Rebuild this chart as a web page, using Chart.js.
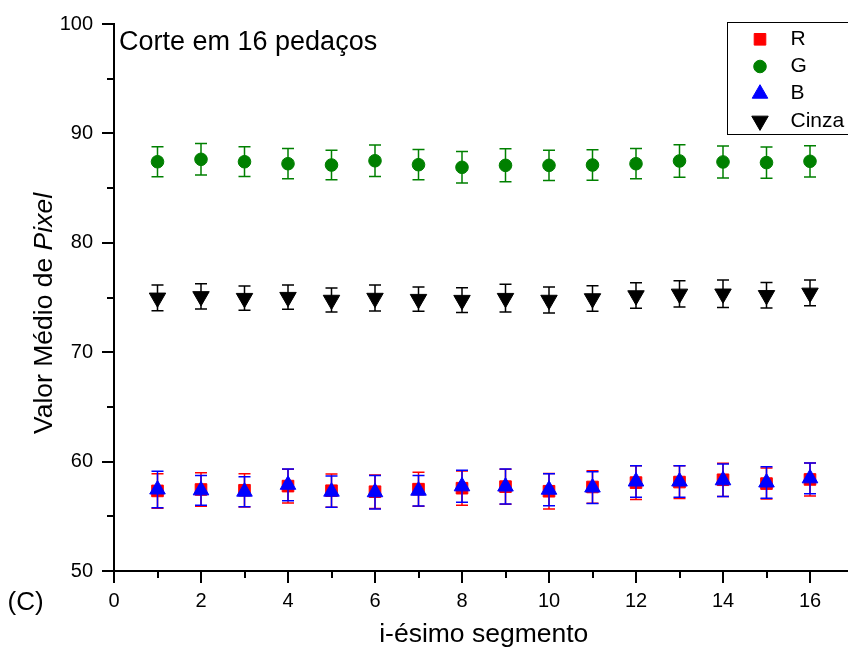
<!DOCTYPE html>
<html>
<head>
<meta charset="utf-8">
<script src="https://cdn.jsdelivr.net/npm/chart.js@4.4.1/dist/chart.umd.min.js"></script>
<style>
  html, body { margin: 0; padding: 0; background: #fff; overflow: hidden; width: 848px; height: 654px; }
  #quadro { position: absolute; left: 0; top: 0; width: 864px; height: 654px; }
  canvas { display: block; }
</style>
</head>
<body>
<div id="quadro"><canvas id="grafico" width="864" height="654" style="width:864px;height:654px"></canvas></div>
<script>
// Segmentos da imagem (corte em 16 pedaços)
const segmentos = [1, 2, 3, 4, 5, 6, 7, 8, 9, 10, 11, 12, 13, 14, 15, 16];

// Valor médio de pixel por canal e desvio (barra de erro)
const rMedia = [57.32, 57.45, 57.38, 57.76, 57.34, 57.25, 57.48, 57.57, 57.71, 57.29, 57.68, 58.08, 58.13, 58.34, 57.99, 58.37];
const rErro  = [1.58, 1.52, 1.52, 1.55, 1.52, 1.53, 1.55, 1.57, 1.60, 1.62, 1.48, 1.54, 1.50, 1.52, 1.42, 1.51];

const gMedia = [87.41, 87.63, 87.41, 87.23, 87.11, 87.50, 87.14, 86.90, 87.08, 87.08, 87.11, 87.23, 87.48, 87.39, 87.33, 87.45];
const gErro  = [1.38, 1.44, 1.36, 1.38, 1.34, 1.43, 1.38, 1.44, 1.51, 1.39, 1.40, 1.38, 1.48, 1.46, 1.42, 1.43];

const bMedia = [57.45, 57.37, 57.25, 57.88, 57.25, 57.20, 57.34, 57.74, 57.72, 57.43, 57.63, 58.18, 58.18, 58.29, 58.09, 58.47];
const bErro  = [1.66, 1.37, 1.37, 1.45, 1.43, 1.54, 1.40, 1.46, 1.60, 1.46, 1.45, 1.45, 1.45, 1.49, 1.45, 1.40];

const cinzaMedia = [74.97, 75.10, 74.94, 75.03, 74.77, 74.95, 74.85, 74.76, 74.94, 74.77, 74.91, 75.18, 75.33, 75.34, 75.20, 75.42];
const cinzaErro  = [1.17, 1.16, 1.11, 1.11, 1.10, 1.19, 1.11, 1.14, 1.26, 1.19, 1.17, 1.17, 1.20, 1.25, 1.16, 1.17];

// Rótulos dos eixos
const xRotulos = [0, 2, 4, 6, 8, 10, 12, 14, 16];
const yRotulos = [50, 60, 70, 80, 90, 100];

const FONTE = '"Liberation Sans", Arial, Helvetica, sans-serif';
Chart.defaults.font.family = FONTE;
Chart.defaults.color = '#000';

const pares = (medias) => segmentos.map((s, i) => ({ x: s, y: medias[i] }));

// Barras de erro desenhadas logo antes dos marcadores de cada série
const barrasDeErro = {
  id: 'barrasDeErro',
  beforeDatasetDraw(chart, args) {
    const ds = chart.data.datasets[args.index];
    if (!ds.erros) return;
    const esc = chart.scales.y;
    const ctx = chart.ctx;
    const cap = 6;
    ctx.save();
    ctx.strokeStyle = ds.borderColor;
    ctx.lineWidth = 1.5;
    args.meta.data.forEach((pt, i) => {
      const v = ds.data[i].y;
      const e = ds.erros[i];
      const yt = esc.getPixelForValue(v + e);
      const yb = esc.getPixelForValue(v - e);
      ctx.beginPath();
      ctx.moveTo(pt.x, yt); ctx.lineTo(pt.x, yb);
      ctx.moveTo(pt.x - cap, yt); ctx.lineTo(pt.x + cap, yt);
      ctx.moveTo(pt.x - cap, yb); ctx.lineTo(pt.x + cap, yb);
      ctx.stroke();
    });
    ctx.restore();
  }
};

// Marcas dos eixos voltadas para fora: principais longas, secundárias curtas
const marcas = {
  id: 'marcas',
  afterDraw(chart) {
    const { ctx, chartArea: a } = chart;
    const x = chart.scales.x, y = chart.scales.y;
    ctx.save();
    ctx.strokeStyle = '#000';
    ctx.lineWidth = 2;
    ctx.beginPath();
    x.ticks.forEach(t => {
      const px = Math.round(x.getPixelForValue(t.value));
      const len = t.value % 2 === 0 ? 12 : 7;
      ctx.moveTo(px, a.bottom);
      ctx.lineTo(px, a.bottom + len);
    });
    y.ticks.forEach(t => {
      const py = Math.round(y.getPixelForValue(t.value));
      const len = t.value % 10 === 0 ? 12 : 7;
      ctx.moveTo(a.left, py);
      ctx.lineTo(a.left - len, py);
    });
    ctx.stroke();
    ctx.restore();
  }
};

// Título do eixo y (com "Pixel" em itálico), rótulo do painel e anotação
const textos = {
  id: 'textos',
  afterDraw(chart) {
    const ctx = chart.ctx;
    const a = chart.chartArea;
    ctx.save();
    ctx.fillStyle = '#000';
    ctx.textAlign = 'left';
    ctx.textBaseline = 'alphabetic';

    const normal = '26.5px ' + FONTE;
    const italico = 'italic 26.5px ' + FONTE;
    const parteA = 'Valor Médio de ';
    const parteB = 'Pixel';
    ctx.font = normal;
    const wA = ctx.measureText(parteA).width;
    ctx.font = italico;
    const wB = ctx.measureText(parteB).width;
    ctx.save();
    ctx.translate(51.5, 313.5);
    ctx.rotate(-Math.PI / 2);
    const x0 = -(wA + wB) / 2;
    ctx.font = normal;
    ctx.fillText(parteA, x0, 0);
    ctx.font = italico;
    ctx.fillText(parteB, x0 + wA, 0);
    ctx.restore();

    ctx.font = '26px ' + FONTE;
    ctx.fillText('(C)', 7.5, 610);
    ctx.font = '27px ' + FONTE;
    ctx.fillText('Corte em 16 pedaços', a.left + 5, 49.5);
    ctx.restore();
  }
};

// Legenda em caixa no canto superior direito
const legenda = {
  id: 'legenda',
  afterDraw(chart) {
    const ctx = chart.ctx;
    ctx.save();
    ctx.strokeStyle = '#000';
    ctx.lineWidth = 1;
    ctx.strokeRect(727.5, 22.5, 150, 112);
    chart.data.datasets.forEach((ds, i) => {
      const cy = 39.3 + i * 27.2;
      ctx.fillStyle = ds.backgroundColor;
      ctx.strokeStyle = ds.borderColor;
      ctx.lineWidth = 1;
      Chart.helpers.drawPoint(ctx, {
        pointStyle: ds.pointStyle,
        radius: ds.pointRadius,
        rotation: ds.pointRotation || 0,
        borderWidth: 1
      }, 760, cy);
      ctx.fillStyle = '#000';
      ctx.font = '21px ' + FONTE;
      ctx.textAlign = 'left';
      ctx.textBaseline = 'middle';
      ctx.fillText(ds.label, 790.5, cy);
    });
    ctx.restore();
  }
};

new Chart(document.getElementById('grafico'), {
  type: 'scatter',
  data: {
    datasets: [
      { label: 'R', data: pares(rMedia), erros: rErro, pointStyle: 'rect', pointRadius: 8.2,
        backgroundColor: '#ff0000', borderColor: '#ff0000', pointBorderWidth: 1, order: 4 },
      { label: 'G', data: pares(gMedia), erros: gErro, pointStyle: 'circle', pointRadius: 6.3,
        backgroundColor: '#008000', borderColor: '#008000', pointBorderWidth: 1, order: 3 },
      { label: 'B', data: pares(bMedia), erros: bErro, pointStyle: 'triangle', pointRadius: 9,
        backgroundColor: '#0000ff', borderColor: '#0000ff', pointBorderWidth: 1, order: 2 },
      { label: 'Cinza', data: pares(cinzaMedia), erros: cinzaErro, pointStyle: 'triangle', pointRotation: 180,
        pointRadius: 9.5, backgroundColor: '#000000', borderColor: '#000000', pointBorderWidth: 1, order: 1 }
    ]
  },
  options: {
    responsive: false,
    animation: false,
    events: [],
    layout: { padding: { left: 0, top: 24, right: 6.5, bottom: 0 } },
    plugins: { legend: { display: false }, tooltip: { enabled: false } },
    scales: {
      x: {
        type: 'linear', position: 'bottom', min: 0, max: 17,
        ticks: { stepSize: 1, autoSkip: false, maxRotation: 0, padding: 10, color: '#000',
                 font: { size: 20 }, callback: v => xRotulos.includes(v) ? String(v) : '' },
        grid: { display: false },
        border: { display: true, color: '#000', width: 2 },
        title: { display: true, text: 'i-ésimo segmento', color: '#000', font: { size: 26.5 },
                 padding: { top: 0, bottom: 3 } },
        afterFit(s) { s.height = 83; s.paddingLeft = 0; s.paddingRight = 0; }
      },
      y: {
        type: 'linear', position: 'left', min: 50, max: 100,
        ticks: { stepSize: 5, padding: 13, color: '#000', font: { size: 20 },
                 callback: v => yRotulos.includes(v) ? String(v) : '' },
        grid: { display: false },
        border: { display: true, color: '#000', width: 2 },
        afterFit(s) { s.width = 114; s.paddingTop = 0; s.paddingBottom = 0; }
      }
    }
  },
  plugins: [barrasDeErro, marcas, textos, legenda]
});
</script>
</body>
</html>
